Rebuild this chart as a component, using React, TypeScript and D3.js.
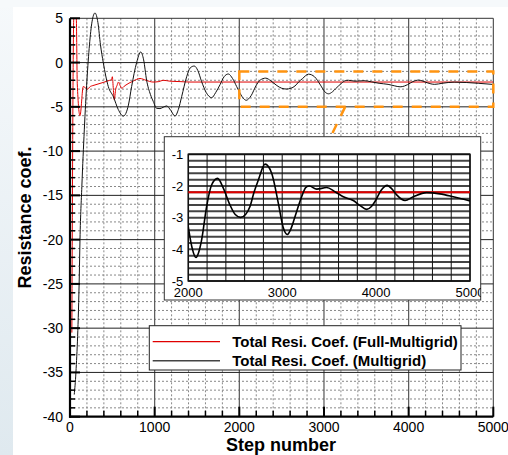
import React from 'react';
import * as d3 from 'd3';

// ---------- data ----------
const fullMultigrid: [number, number][] = [
  [22, -30.5], [45, 5], [74, 5], [86, -2.4], [118, -6.0], [157, -2.7], [180, -2.85], [205, -3.0],
  [240, -2.7], [270, -2.6], [390, -2.25], [470, -2.0], [490, -1.95], [500, -1.6], [512, -3.0],
  [523, -4.2], [540, -3.0], [555, -2.6], [573, -2.2], [592, -2.6], [610, -2.9], [650, -2.6],
  [744, -2.1], [827, -1.8], [898, -2.0], [980, -2.2], [1050, -2.15], [1100, -2.0], [1180, -2.1],
  [1300, -2.15], [1417, -2.2], [2000, -2.2], [3000, -2.2], [4000, -2.2], [5000, -2.2],
];

const multigrid: [number, number][] = [
  [50, -37.5], [70, -35], [110, -24], [118, -20], [140, -14], [169, -7.6], [200, -2], [230, 2],
  [260, 4.6], [295, 5.6], [330, 4.5], [360, 2], [393, 0], [452, -2.7], [512, -3.85], [570, -5.3],
  [630, -6.05], [690, -4.8], [728, -2.7], [787, 0], [835, 1.2], [870, 0.3], [905, -2.0],
  [950, -3.6], [984, -4.4], [1023, -5.17], [1063, -5.2], [1100, -5.05], [1142, -4.9],
  [1190, -5.4], [1240, -6.05], [1280, -5.3], [1319, -3.85], [1378, -1.6], [1420, -0.6],
  [1468, -0.39], [1510, -0.9], [1555, -2.16], [1610, -3.4], [1673, -3.97], [1720, -3.4],
  [1772, -2.5], [1820, -1.6], [1870, -1.29], [1920, -1.8], [1968, -2.7], [2000, -3.3],
  [2040, -3.95], [2082, -4.26], [2110, -4.1], [2142, -3.7], [2195, -2.65], [2248, -1.97],
  [2312, -1.76], [2373, -2.07], [2444, -2.6], [2500, -2.9], [2557, -2.99], [2610, -2.9],
  [2657, -2.65], [2700, -2.2], [2746, -1.81], [2817, -1.31], [2888, -1.6], [2959, -2.55],
  [3010, -3.3], [3054, -3.53], [3100, -3.3], [3136, -2.97], [3207, -2.34], [3250, -2.05],
  [3289, -2.0], [3367, -2.1], [3473, -2.05], [3562, -2.18], [3651, -2.34], [3757, -2.46],
  [3830, -2.62], [3899, -2.74], [3950, -2.65], [3988, -2.49], [4050, -2.15], [4119, -1.98],
  [4170, -2.1], [4219, -2.28], [4308, -2.46], [4396, -2.34], [4538, -2.21], [4680, -2.25],
  [4822, -2.34], [5000, -2.47],
];

const xTicks = [0, 1000, 2000, 3000, 4000, 5000];
const yTicks = [5, 0, -5, -10, -15, -20, -25, -30, -35, -40];
const insetXTicks = [2000, 3000, 4000, 5000];
const insetYTicks = [-1, -2, -3, -4, -5];
const legendLabels = ['Total Resi. Coef. (Full-Multigrid)', 'Total Resi. Coef. (Multigrid)'];
const zoomX = [2000, 5000];
const zoomY = [-5, -1];
const connector: [number, number][] = [[3250, -5], [3075, -8.45]];

const FONT = 'Liberation Sans, Arial, Helvetica, sans-serif';
const W = 508;
const H = 455;

export default function App() {
  const x = d3.scaleLinear().domain([0, 5000]).range([70, 493.3]);
  const y = d3.scaleLinear().domain([-40, 5]).range([416.7, 18.3]);
  const xi = d3.scaleLinear().domain(zoomX).range([188.3, 470]);
  const yi = d3.scaleLinear().domain(zoomY).range([281, 154.3]);

  const line = d3.line<[number, number]>().x(d => x(d[0])).y(d => y(d[1])).curve(d3.curveMonotoneX);
  const lineI = d3.line<[number, number]>().x(d => xi(d[0])).y(d => yi(d[1])).curve(d3.curveMonotoneX);

  const xMinor = d3.range(0, 5001, 200).filter(v => v % 1000 !== 0);
  const yMinor = d3.range(-40, 5.01, 1).filter(v => v % 5 !== 0);
  const xiGrid = d3.range(2000, 5001, 200);
  const yiGrid = d3.range(-5, -0.99, 0.2);

  const [px0, px1] = x.range();
  const [py0, py1] = [y(5), y(-40)];

  // inset box
  const ibx0 = 164.3, ibx1 = 480.7, iby0 = 136.7, iby1 = 300;
  // legend box
  const lbx0 = 149.3, lbx1 = 461, lby0 = 325.7, lby1 = 370;

  return (
    <svg width={W} height={H} style={{ position: 'absolute', left: 0, top: 0 }} fontFamily={FONT}>
      <defs>
        <linearGradient id="bgGrad" x1="0" y1="0" x2="0" y2="1">
          <stop offset="0" stopColor="#f6f9fb" />
          <stop offset="1" stopColor="#dfe9ef" />
        </linearGradient>
        <clipPath id="plotClip">
          <rect x={px0} y={py0} width={px1 - px0} height={py1 - py0} />
        </clipPath>
        <clipPath id="insetPlotClip">
          <rect x={xi(2000)} y={yi(-1)} width={xi(5000) - xi(2000)} height={yi(-5) - yi(-1)} />
        </clipPath>
        <clipPath id="insetBoxClip">
          <rect x={ibx0} y={iby0} width={ibx1 - ibx0} height={iby1 - iby0} />
        </clipPath>
      </defs>
      <rect x={0} y={0} width={W} height={H} fill="url(#bgGrad)" />
      <rect x={0} y={0} width={W} height={7} fill="#f6f9fb" />
      <rect x={13} y={7} width={W - 13} height={H - 7} fill="#ffffff" />

      {/* minor dotted grid */}
      {xMinor.map(v => (
        <line key={'xm' + v} x1={x(v)} x2={x(v)} y1={py0} y2={py1} stroke="#888" strokeWidth={1} strokeDasharray="2,2" />
      ))}
      {yMinor.map(v => (
        <line key={'ym' + v} x1={px0} x2={px1} y1={y(v)} y2={y(v)} stroke="#888" strokeWidth={1} strokeDasharray="2,2" />
      ))}
      {/* major grid */}
      {xTicks.slice(1, -1).map(v => (
        <line key={'xM' + v} x1={x(v)} x2={x(v)} y1={py0} y2={py1} stroke="#555" strokeWidth={1.2} />
      ))}
      {yTicks.slice(1, -1).map(v => (
        <line key={'yM' + v} x1={px0} x2={px1} y1={y(v)} y2={y(v)} stroke="#222" strokeWidth={1} />
      ))}

      {/* frame top/right */}
      <line x1={px0} x2={px1} y1={py0} y2={py0} stroke="#333" strokeWidth={1} />
      <line x1={px1} x2={px1} y1={py0} y2={py1} stroke="#333" strokeWidth={1} />

      {/* series */}
      <path d={line(fullMultigrid) || ''} fill="none" stroke="#e00000" strokeWidth={1} clipPath="url(#plotClip)" />
      <path d={line(multigrid) || ''} fill="none" stroke="#111" strokeWidth={1} />

      {/* zoom rectangle & connector */}
      <rect x={x(zoomX[0])} y={y(zoomY[1])} width={x(zoomX[1]) - x(zoomX[0])} height={y(zoomY[0]) - y(zoomY[1])}
        fill="none" stroke="#ff9410" strokeWidth={2.5} strokeDasharray="10,9" />
      <line x1={x(connector[0][0])} y1={y(connector[0][1])} x2={x(connector[1][0])} y2={y(connector[1][1])}
        stroke="#ff9410" strokeWidth={2.5} strokeDasharray="10,9" />

      {/* inset */}
      <rect x={ibx0} y={iby0} width={ibx1 - ibx0} height={iby1 - iby0} fill="#fff" stroke="#333" strokeWidth={1} />
      <g clipPath="url(#insetBoxClip)">
        {yiGrid.map((v, i) => (
          <line key={'yig' + i} x1={xi(2000)} x2={xi(5000)} y1={yi(v)} y2={yi(v)} stroke="#444" strokeWidth={2} />
        ))}
        {xiGrid.map(v => (
          <line key={'xig' + v} x1={xi(v)} x2={xi(v)} y1={yi(-1)} y2={yi(-5)} stroke="#111" strokeWidth={1} />
        ))}
        <rect x={xi(2000)} y={yi(-1)} width={xi(5000) - xi(2000)} height={yi(-5) - yi(-1)} fill="none" stroke="#111" strokeWidth={1.5} />
        <g clipPath="url(#insetPlotClip)">
          <path d={lineI(fullMultigrid) || ''} fill="none" stroke="#e00000" strokeWidth={2} />
          <path d={lineI(multigrid) || ''} fill="none" stroke="#000" strokeWidth={1.6} />
        </g>
        {insetYTicks.map(v => (
          <text key={'iyt' + v} x={xi(2000) - 5} y={yi(v)} dy="0.36em" textAnchor="end" fontSize={13} fill="#000">{v}</text>
        ))}
        {insetXTicks.map(v => (
          <text key={'ixt' + v} x={xi(v)} y={297} textAnchor="middle" fontSize={13} fill="#000">{v}</text>
        ))}
      </g>

      {/* legend */}
      <rect x={lbx0} y={lby0} width={lbx1 - lbx0} height={lby1 - lby0} fill="#fff" stroke="#222" strokeWidth={1} />
      <line x1={152.7} x2={220} y1={341.7} y2={341.7} stroke="#e00000" strokeWidth={1.2} />
      <line x1={152.7} x2={220} y1={360.7} y2={360.7} stroke="#444" strokeWidth={1.5} />
      <text x={232.3} y={347} fontSize={15} fontWeight="bold" fill="#000">{legendLabels[0]}</text>
      <text x={232.3} y={366} fontSize={15} fontWeight="bold" fill="#000">{legendLabels[1]}</text>

      {/* axes */}
      {yMinor.map(v => (
        <line key={'ytm' + v} x1={px0} x2={px0 + 5} y1={y(v)} y2={y(v)} stroke="#000" strokeWidth={1.5} />
      ))}
      {yTicks.map(v => (
        <line key={'ytM' + v} x1={px0} x2={px0 + 10} y1={y(v)} y2={y(v)} stroke="#000" strokeWidth={2} />
      ))}
      {xMinor.map(v => (
        <line key={'xtm' + v} x1={x(v)} x2={x(v)} y1={py1} y2={py1 - 6} stroke="#000" strokeWidth={1.5} />
      ))}
      {xTicks.map(v => (
        <line key={'xtM' + v} x1={x(v)} x2={x(v)} y1={py1} y2={py1 - 10} stroke="#000" strokeWidth={2} />
      ))}
      <line x1={px0} x2={px0} y1={py0} y2={py1 + 1} stroke="#000" strokeWidth={2.2} />
      <line x1={px0 - 1} x2={px1} y1={py1} y2={py1} stroke="#000" strokeWidth={2.2} />

      {yTicks.map(v => (
        <text key={'ytl' + v} x={63} y={y(v)} dy="0.36em" textAnchor="end" fontSize={14} fill="#000">{v}</text>
      ))}
      {xTicks.map(v => (
        <text key={'xtl' + v} x={x(v)} y={432} textAnchor="middle" fontSize={14} fill="#000">{v}</text>
      ))}
      <text x={281} y={451} textAnchor="middle" fontSize={18} fontWeight="bold" fill="#000">Step number</text>
      <text transform={`translate(30.5,217.5) rotate(-90)`} textAnchor="middle" fontSize={18} fontWeight="bold" fill="#000">Resistance coef.</text>
    </svg>
  );
}
